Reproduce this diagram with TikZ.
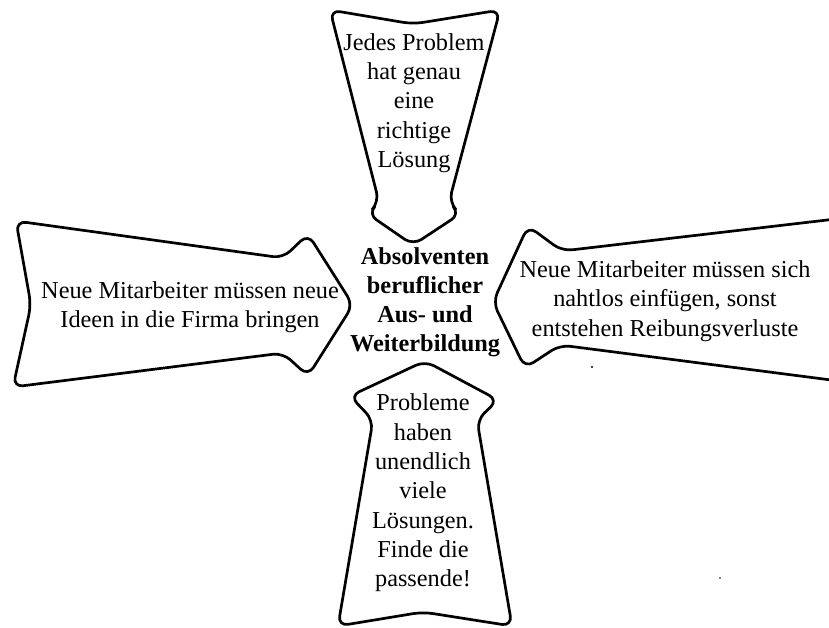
\documentclass[tikz,border=0pt]{standalone}
\usepackage{fontspec}
\setmainfont{Liberation Serif}
\begin{document}
\begin{tikzpicture}[x=1pt,y=-1pt,
  arrowshape/.style={draw=black,line width=2.7pt,rounded corners=10pt,line join=round},
  arrowtext/.style={align=center,inner sep=0pt,font=\fontsize{24.3}{29.3}\selectfont},
  centertext/.style={align=center,inner sep=0pt,font=\fontsize{24.3}{29}\selectfont\bfseries},
  speck/.style={fill=black,inner sep=0pt,minimum size=2.4pt,circle}]
\useasboundingbox (0,0) rectangle (829,627);
\clip (0,0) rectangle (829,627);

% arrow from the top, pointing down
\draw[arrowshape] (330,10) -- (413,24) -- (500,10) -- (449,202) -- (460,214)
  -- (413,245) -- (368,214) -- (379,202) -- cycle;
% arrow from the left, pointing right
\draw[arrowshape] (16,221) -- (283,258) -- (308,234) -- (353,305) -- (308,376)
  -- (283,353) -- (13,387) -- (31,305) -- cycle;
% arrow from the right, pointing left (runs off the right edge)
\draw[arrowshape] (870,215) -- (562,251) -- (528,226) -- (493,302) -- (525,368)
  -- (560,345) -- (870,385);
% arrow from the bottom, pointing up
\draw[arrowshape] (425,361) -- (498,400) -- (477,420) -- (512,626) -- (423,612)
  -- (338,626) -- (373,420) -- (350,396) -- cycle;

\node[arrowtext] (top) at (414,103) {Jedes Problem\\hat genau\\eine\\richtige\\Lösung};
\node[arrowtext] (left) at (190,307) {Neue Mitarbeiter müssen neue\\Ideen in die Firma bringen};
\node[arrowtext] (right) at (665,301) {Neue Mitarbeiter müssen sich\\nahtlos einfügen, sonst\\entstehen Reibungsverluste};
\node[arrowtext] (bottom) at (423,493) {Probleme\\haben\\unendlich\\viele\\Lösungen.\\Finde die\\passende!};
\node[centertext] (center) at (425,302) {Absolventen\\beruflicher\\Aus- und\\Weiterbildung};

% small specks
\node[speck] (s1) at (592,367) {};
\node[speck,minimum size=1.8pt] (s2) at (720,578) {};
\end{tikzpicture}
\end{document}
